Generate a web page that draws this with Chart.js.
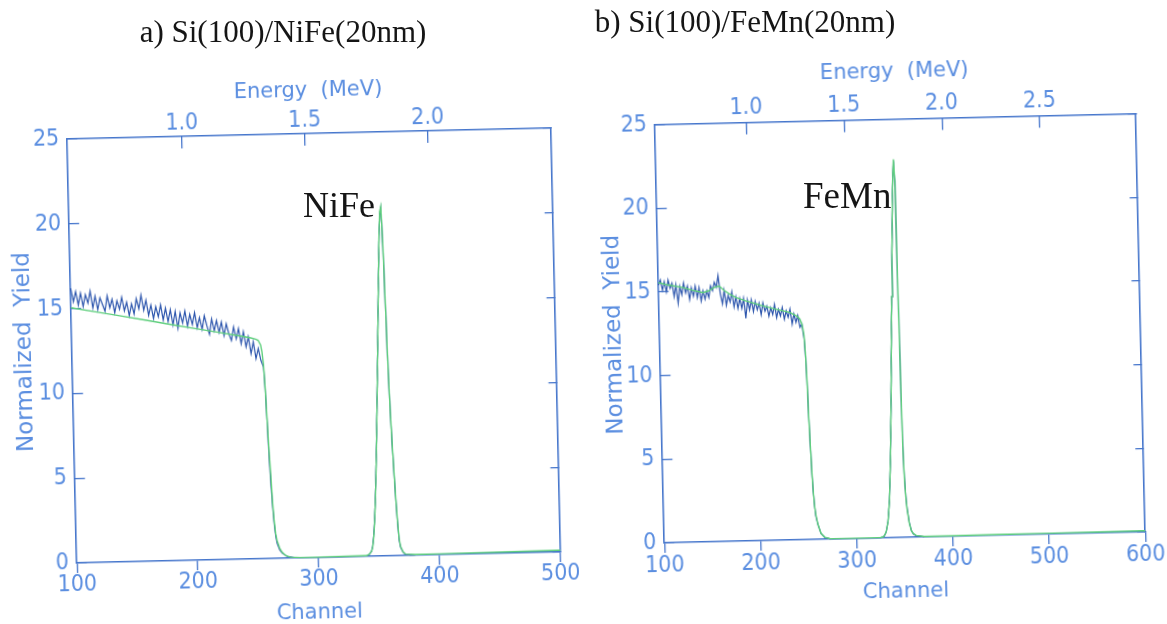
<!DOCTYPE html>
<html>
<head>
<meta charset="utf-8">
<script src="https://cdn.jsdelivr.net/npm/chart.js@4.4.1/dist/chart.umd.min.js"></script>
<style>
  body { margin: 0; background: #fff; width: 1167px; height: 624px; overflow: hidden; position: relative; }
  canvas { position: absolute; top: 0; transform: rotate(-1.3deg); transform-origin: 50% 50%; }
  #chartA { left: 0; }
  #chartB { left: 583px; }
  .txt { position: absolute; line-height: 0; white-space: nowrap; font-family: "Liberation Serif", "Times New Roman", serif; color: #151515; }
</style>
</head>
<body>
<canvas id="chartA" width="583" height="624"></canvas>
<canvas id="chartB" width="584" height="624"></canvas>
<div class="txt" style="left:283px; top:31.5px; font-size:31px; transform:translateX(-50%)">a) Si(100)/NiFe(20nm)</div>
<div class="txt" style="left:745px; top:21.5px; font-size:31px; transform:translateX(-50%)">b) Si(100)/FeMn(20nm)</div>
<div class="txt" style="left:303px; top:204.5px; font-size:36px">NiFe</div>
<div class="txt" style="left:803px; top:195.5px; font-size:37px">FeMn</div>
<script>
// panel a : Si(100)/NiFe(20nm)
const measChA = [100,102,104,106,108,110,112,114,116,118,120,122,124,126,128,130,132,134,136,138,140,142,144,146,148,150,152,154,156,158,160,162,164,166,168,170,172,174,176,178,180,182,184,186,188,190,192,194,196,198,200,202,204,206,208,210,212,214,216,218,220,222,224,226,228,230,232,234,236,238,240,242,244,246,248,250,252,254,256,
  258,259,260,261,262,263,264,265,266,268,270,274,280,300,320,340,
  342,344,345,346,347,348,349,350,351,352,353,354,355,356,357,358,359,360,361,362,363,364,365,366,367,368,370,372,376,380];
const measYieldA = [16.2,15.4,16.0,15.2,15.9,15.1,15.8,15.3,16.0,15.0,15.7,14.9,15.6,15.2,14.8,15.7,15.0,15.5,14.7,15.4,14.9,15.6,14.8,15.3,14.5,15.2,14.6,15.5,14.9,15.7,14.8,15.4,14.5,15.1,14.3,15.0,14.4,15.1,14.2,14.9,14.1,14.8,13.9,14.7,13.7,14.6,14.0,14.7,13.8,14.5,13.9,14.6,13.7,14.3,13.6,14.4,13.8,13.3,14.2,13.5,14.1,13.4,14.0,13.2,13.9,13.3,12.9,13.7,13.0,13.6,12.7,13.4,12.5,13.1,12.1,12.8,11.8,12.4,11.7,
  11.3,10.0,8.0,5.9,4.3,3.0,2.0,1.3,0.9,0.5,0.3,0.1,0.03,0.02,0.02,0.03,
  0.1,0.3,0.6,1.2,2.1,3.3,4.9,6.6,8.6,10.6,12.7,14.9,16.9,18.8,20.1,20.5,18.2,14.6,11.0,8.5,6.5,4.8,3.2,1.9,0.9,0.5,0.2,0.06,0.02,0.02];
const simChA = [100,120,140,160,180,200,220,240,248,252,254,256,257,258,259,260,261,262,263,264,265,266,268,270,273,277,285,300,320,340,342,344,345,346,347,348,349,350,351,352,353,354,355,356,357,358,359,360,361,362,363,364,365,366,367,368,370,372,380,400,450,500];
const simYieldA = [15.05,14.78,14.51,14.24,13.96,13.69,13.42,13.15,13.03,12.95,12.88,12.6,12.2,11.5,10.1,8.2,6.4,4.9,3.3,2.2,1.45,1.05,0.6,0.35,0.15,0.05,0.02,0.02,0.03,0.04,0.12,0.3,0.55,1.1,2.0,3.2,4.7,6.5,8.5,10.5,12.6,14.8,16.9,18.9,20.3,20.6,18.4,14.8,11.1,8.6,6.6,4.9,3.3,2.0,1.0,0.55,0.22,0.08,0.04,0.05,0.07,0.1];
const energyTicksA = [1.0, 1.5, 2.0];

// panel b : Si(100)/FeMn(20nm)
const measChB = [100,102,104,106,108,110,112,114,116,118,120,122,124,126,128,130,132,134,136,138,140,142,144,146,148,150,152,154,156,158,160,162,164,166,168,170,172,174,176,178,180,182,184,186,188,190,192,194,196,198,200,202,204,206,208,210,212,214,216,218,220,222,224,226,228,230,232,234,236,238,240,242,244,246,248,249,250,
  251,252,253,254,255,256,257,258,260,263,267,272,300,325,
  328,330,331,333,335,337,339,340,341,342,343,344,345,346,347,348,349,350,351,352,353,355,357,359,362,370];
const measYieldB = [15.4,15.7,15.1,15.6,15.0,15.7,15.2,15.5,14.7,15.4,14.3,15.3,14.8,15.5,14.9,15.3,14.5,15.2,14.7,15.3,14.6,15.2,14.4,15.0,14.5,15.0,14.6,15.3,15.0,15.5,15.2,15.9,14.8,14.2,15.0,14.1,14.7,14.3,14.9,14.0,14.6,13.9,14.5,13.9,14.5,13.3,14.4,13.8,14.4,13.7,14.3,13.8,14.2,13.5,14.2,13.7,14.0,13.4,13.9,13.5,14.1,13.3,13.8,13.4,13.9,13.2,13.7,13.3,13.8,12.9,13.5,13.0,13.4,12.7,12.9,12.4,12.0,
  11.0,9.5,7.3,5.5,3.9,2.8,2.0,1.4,0.9,0.35,0.1,0.03,0.02,0.03,
  0.06,0.25,0.4,1.0,2.3,4.8,8.3,10.5,12.5,14.4,16.3,18.3,20.2,21.6,22.5,21.3,11.5,5.5,3.6,2.5,1.8,0.9,0.4,0.2,0.08,0.03];
const simChB = [100,110,125,135,146,152,158,163,168,174,180,190,200,208,220,230,236,243,246,248,249,250,251,252,253,254,255,256,257,258,260,263,267,272,300,325,328,330,331,333,335,337,339,340,341,342,343,344,345,346,347,348,349,350,351,352,353,355,357,359,362,370,400,450,500,550,600];
const simYieldB = [15.55,15.4,15.23,15.05,14.9,15.0,15.2,15.27,15.0,14.75,14.56,14.35,14.17,14.02,13.83,13.68,13.59,13.37,13.2,12.9,12.6,12.2,11.2,9.6,7.3,5.6,4.0,2.8,2.0,1.5,0.9,0.36,0.12,0.04,0.03,0.04,0.08,0.27,0.42,1.0,2.3,4.8,8.3,10.4,12.5,14.4,16.3,18.3,20.2,21.7,22.6,21.3,11.5,5.5,3.5,2.4,1.7,0.85,0.4,0.22,0.1,0.04,0.04,0.05,0.06,0.07,0.08];
const energyTicksB = [1.0, 1.5, 2.0, 2.5];

// energy calibration of the channel axis (MeV)
const energyOffset = 0.0413;
const energyPerChannel = 0.0049164;
const yieldMax = 25;

const frameColor = "#4676cc";
const textColor = "#5b8ee0";
const measColor = "#2d56ad";
const simColor = "#5fcf7d";
const tickFont = { family: '"Liberation Sans Narrow", "DejaVu Sans Condensed", "Liberation Sans", sans-serif', size: 23, lineHeight: 1 };
const titleFont = { family: '"DejaVu Sans", sans-serif', size: 21, lineHeight: 1 };

function energyOf(ch) {
  return energyOffset + ch * energyPerChannel;
}

function points(chs, ys) {
  return chs.map((c, i) => ({ x: c, y: ys[i] }));
}

function spectrumChart(id, p) {
  const gridOpts = len => ({ drawOnChartArea: false, tickLength: len, color: frameColor, lineWidth: 1.3 });
  const border = { display: true, color: frameColor, width: 1.6 };
  return new Chart(document.getElementById(id), {
    type: "line",
    data: {
      datasets: [
        { label: "Simulation", data: points(p.simCh, p.simY), borderColor: simColor, borderWidth: 1.4, pointRadius: 0, tension: 0, clip: 4 },
        { label: "Measured", data: points(p.measCh, p.measY), borderColor: measColor, borderWidth: 1.2, pointRadius: 0, tension: 0, clip: 4 }
      ]
    },
    options: {
      responsive: false,
      animation: false,
      layout: { padding: 0 },
      plugins: { legend: { display: false }, tooltip: { enabled: false } },
      scales: {
        x: {
          type: "linear", position: "bottom", min: 100, max: p.chMax,
          afterFit: s => { s.height = p.bottomH; },
          ticks: { stepSize: 100, color: textColor, font: tickFont, padding: 1, maxRotation: 0, autoSkip: false },
          grid: gridOpts(10), border: border,
          title: { display: true, text: "Channel", color: textColor, font: titleFont, padding: { top: 0, bottom: p.channelPad } }
        },
        xE: {
          type: "linear", position: "top", min: energyOf(100), max: energyOf(p.chMax),
          afterBuildTicks: s => { s.ticks = p.energyTicks.map(v => ({ value: v })); },
          afterFit: s => { s.height = p.topH; },
          ticks: { color: textColor, font: tickFont, padding: p.topPad, maxRotation: 0, callback: v => v.toFixed(1) },
          grid: gridOpts(-12), border: border,
          title: { display: true, text: "Energy  (MeV)", color: textColor, font: titleFont, padding: { top: p.energyPad, bottom: 0 } }
        },
        y: {
          position: "left", min: 0, max: yieldMax,
          afterFit: s => { s.width = p.leftW; },
          ticks: { stepSize: 5, color: textColor, font: tickFont, padding: 18 },
          grid: gridOpts(-10), border: border,
          title: { display: true, text: "Normalized  Yield", color: textColor, font: { family: titleFont.family, size: 23, lineHeight: 1 }, padding: { top: p.yTitlePad, bottom: 0 } }
        },
        y2: {
          position: "right", min: 0, max: yieldMax,
          afterFit: s => { s.width = p.rightW; },
          ticks: { stepSize: 5, callback: () => "" },
          grid: gridOpts(-8), border: border
        }
      }
    }
  });
}

spectrumChart("chartA", {
  measCh: measChA, measY: measYieldA, simCh: simChA, simY: simYieldA,
  energyTicks: energyTicksA, chMax: 500,
  leftW: 71.25, rightW: 28.25, topH: 134, bottomH: 66,
  channelPad: 0, topPad: 13.9, energyPad: 80.8, yTitlePad: 12.5
});

spectrumChart("chartB", {
  measCh: measChB, measY: measYieldB, simCh: simChB, simY: simYieldB,
  energyTicks: energyTicksB, chMax: 600,
  leftW: 76.2, rightW: 26.8, topH: 119.6, bottomH: 85.9,
  channelPad: 20.8, topPad: 15.5, energyPad: 61.9, yTitlePad: 20
});
</script>
</body>
</html>
